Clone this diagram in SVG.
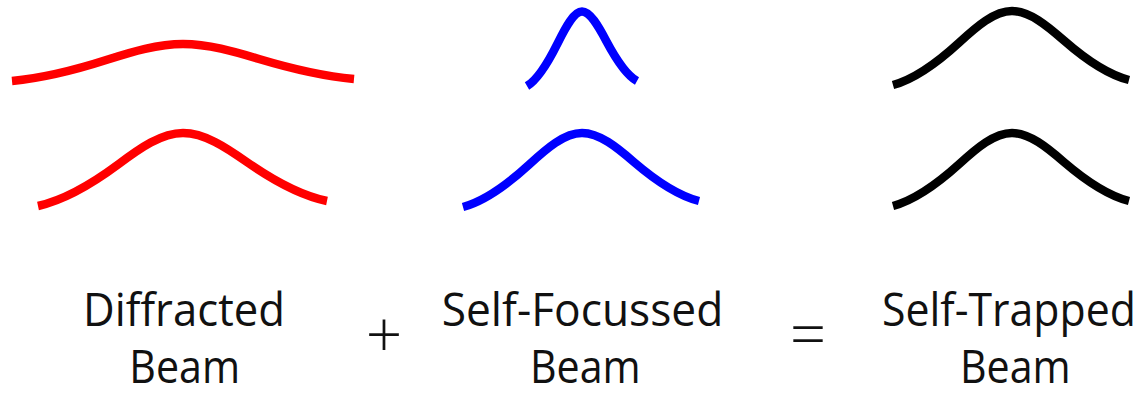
<svg xmlns="http://www.w3.org/2000/svg" width="1148" height="394" viewBox="0 0 1148 394">
  <style>
    .beam { fill: none; stroke-width: 8.5; stroke-linecap: butt; stroke-linejoin: round; }
    .red { stroke: #ff0000; }
    .blue { stroke: #0000ff; }
    .black { stroke: #000000; }
    .label { font-family: "Open Sans", "Noto Sans", "Liberation Sans", sans-serif; font-size: 46px; fill: #111111; text-anchor: middle; }
    .op { font-family: "Open Sans", "Noto Sans", "Liberation Sans", sans-serif; font-size: 64px; font-weight: 300; fill: #111111; text-anchor: middle; }
  </style>
  <rect width="1148" height="394" fill="#ffffff"/>

  <g id="diffracted">
    <path class="beam red" d="M12,81 C43.7,78 75.3,70 107,59.8 C132.3,51.7 157.7,44 183,44 C208.3,44 233.7,51.3 259,59 C290.7,68.5 322.3,76.1 354,79"/>
    <path class="beam red" d="M38,206 C64.9,200.1 91.7,184.2 118.6,164.2 C140,148.1 161.5,133 183,133 C204.3,133 225.7,147.1 247,162.1 C273.7,180.7 300.3,195.5 327,201"/>
    <text class="label" x="184" y="326" textLength="202" lengthAdjust="spacingAndGlyphs">Diffracted</text>
    <text class="label" x="184.7" y="383" textLength="110.7" lengthAdjust="spacingAndGlyphs">Beam</text>
  </g>

  <g id="plus">
    <text class="op" x="384" y="357">+</text>
  </g>

  <g id="self-focussed">
    <path class="beam blue" d="M527,86 C537.3,79.9 547.4,63.8 557.6,43.3 C565.7,27 573.9,11.5 582,11.5 C590.1,11.5 598.3,25.9 606.4,41.2 C616.6,60.3 626.7,75.4 637,81"/>
    <path class="beam blue" d="M463,207 C485,201 507,184.9 529.1,164.6 C546.7,148.4 564.4,133 582,133 C599.3,133 616.7,147.1 634,162.1 C655.7,180.7 677.3,195.5 699,201"/>
    <text class="label" x="582.5" y="326" textLength="281.6" lengthAdjust="spacingAndGlyphs">Self-Focussed</text>
    <text class="label" x="585.3" y="383" textLength="110.7" lengthAdjust="spacingAndGlyphs">Beam</text>
  </g>

  <g id="equals">
    <text class="op" x="808" y="357">=</text>
  </g>

  <g id="self-trapped">
    <path class="beam black" d="M893,85 C915,79 937,62.9 959.1,42.6 C976.7,26.4 994.4,11 1012,11 C1029.3,11 1046.7,25.3 1064,40.5 C1085.7,59.5 1107.3,74.5 1129,80"/>
    <path class="beam black" d="M893,206 C915,200.1 937,184.2 959.1,164.2 C976.7,148.1 994.4,133 1012,133 C1029.3,133 1046.7,147.1 1064,162.1 C1085.7,180.7 1107.3,195.5 1129,201"/>
    <text class="label" x="1009" y="326" textLength="254" lengthAdjust="spacingAndGlyphs">Self-Trapped</text>
    <text class="label" x="1015.3" y="383" textLength="110.7" lengthAdjust="spacingAndGlyphs">Beam</text>
  </g>
</svg>
